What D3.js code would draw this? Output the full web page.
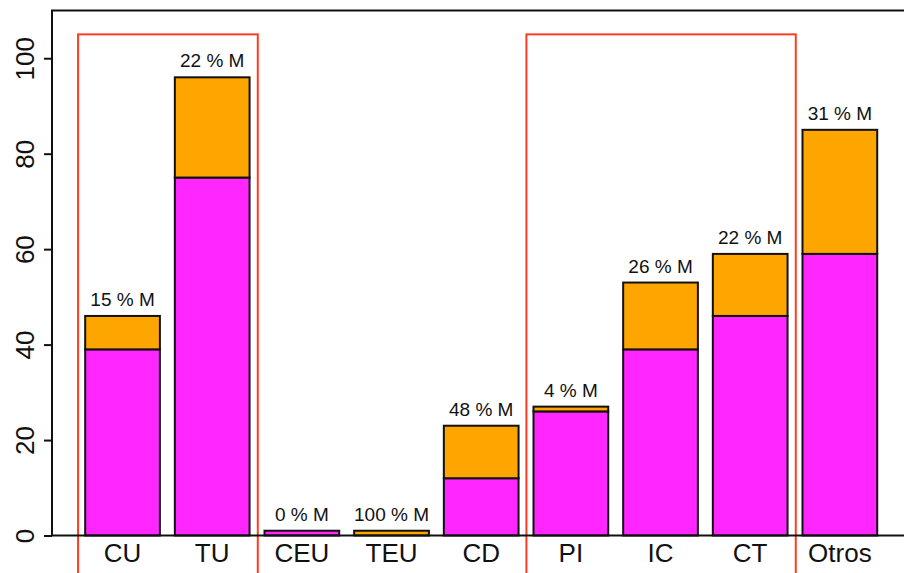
<!DOCTYPE html>
<html>
<head>
<meta charset="utf-8">
<script src="https://cdn.jsdelivr.net/npm/d3@7"></script>
<style>
  html, body { margin: 0; padding: 0; background: #fff; }
  svg { display: block; font-family: "Liberation Sans", Arial, Helvetica, sans-serif; }
</style>
</head>
<body>
<div id="grafico"></div>
<script>
// ==================== DATOS ====================
const categorias = ["CU", "TU", "CEU", "TEU", "CD", "PI", "IC", "CT", "Otros"];
const valoresH = [39, 75, 1, 0, 12, 26, 39, 46, 59];   // parte inferior (magenta)
const valoresM = [7, 21, 0, 1, 11, 1, 14, 13, 26];    // parte superior (naranja)
const ticksY = [0, 20, 40, 60, 80, 100];
// grupos marcados con recuadro rojo (primera y última categoría)
const grupos = [["CU", "TU"], ["PI", "CT"]];

// ==================== DIMENSIONES ====================
const width = 904;
const height = 573;
const marginLeft = 52;
const marginTop = 10.5;
const yCero = 535.5;

// escala x al estilo barplot de R: ancho 1, espacio 0.2
const x = d3.scaleLinear()
    .domain([-0.244, 11.224])
    .range([marginLeft, 908.9]);

const y = d3.scaleLinear()
    .domain([0, 110])
    .range([yCero, marginTop]);

const izq = i => 0.2 + 1.2 * i;
const der = i => 1.2 + 1.2 * i;

const datos = categorias.map((c, i) => ({
    categoria: c, i, H: valoresH[i], M: valoresM[i]
}));
const series = d3.stack().keys(["H", "M"])(datos);
const color = d3.scaleOrdinal().domain(["H", "M"]).range(["#ff26ff", "#ffa500"]);

const svg = d3.select("#grafico")
    .append("svg")
    .attr("width", width)
    .attr("height", height)
    .attr("viewBox", [0, 0, width, height]);

// ==================== RECUADROS ROJOS ====================
const x0 = g => x(izq(categorias.indexOf(g[0])) - 0.095);
const x1 = g => x(der(categorias.indexOf(g[1])) + 0.11);
svg.append("g")
    .selectAll("rect")
    .data(grupos)
    .join("rect")
    .attr("x", x0)
    .attr("y", y(105))
    .attr("width", g => x1(g) - x0(g))
    .attr("height", height + 20 - y(105))
    .attr("fill", "none")
    .attr("stroke", "#ff3c20")
    .attr("stroke-width", 2);

// ==================== BARRAS ====================
svg.append("g")
    .selectAll("g")
    .data(series)
    .join("g")
    .attr("fill", d => color(d.key))
    .selectAll("rect")
    .data(d => d)
    .join("rect")
    .attr("x", d => x(izq(d.data.i)))
    .attr("y", d => y(d[1]))
    .attr("width", d => x(der(d.data.i)) - x(izq(d.data.i)))
    .attr("height", d => y(d[0]) - y(d[1]))
    .attr("stroke", "#111")
    .attr("stroke-width", 2);

// etiquetas de porcentaje
svg.append("g")
    .selectAll("text")
    .data(datos)
    .join("text")
    .attr("x", d => x(izq(d.i) + 0.5))
    .attr("y", d => y(d.H + d.M) - 10)
    .attr("text-anchor", "middle")
    .attr("font-size", 19)
    .attr("fill", "#111")
    .text(d => `${Math.round(100 * d.M / (d.H + d.M))} % M`);

// ==================== EJES ====================
const marco = svg.append("g")
    .attr("fill", "none")
    .attr("stroke", "#111")
    .attr("stroke-width", 2);
marco.append("path")
    .attr("d", `M${width + 5},${y(110)}H${marginLeft}V${yCero}H${width + 5}`);

const ejeY = svg.append("g")
    .attr("transform", `translate(${marginLeft},0)`)
    .call(d3.axisLeft(y).tickValues(ticksY).tickSize(8).tickPadding(0).tickFormat(d3.format("d")));
ejeY.select(".domain").remove();
ejeY.selectAll(".tick line").attr("stroke", "#111").attr("stroke-width", 2);
ejeY.selectAll(".tick text")
    .attr("transform", "rotate(-90)")
    .attr("x", 0)
    .attr("y", -27)
    .attr("dy", "0.35em")
    .attr("text-anchor", "middle")
    .attr("font-size", 26)
    .attr("fill", "#111")
    .attr("font-family", "Liberation Sans, Arial, sans-serif");

svg.append("g")
    .selectAll("text")
    .data(categorias)
    .join("text")
    .attr("x", (c, i) => x(izq(i) + 0.5))
    .attr("y", 562)
    .attr("text-anchor", "middle")
    .attr("font-size", 26)
    .attr("fill", "#111")
    .text(c => c);
</script>
</body>
</html>
